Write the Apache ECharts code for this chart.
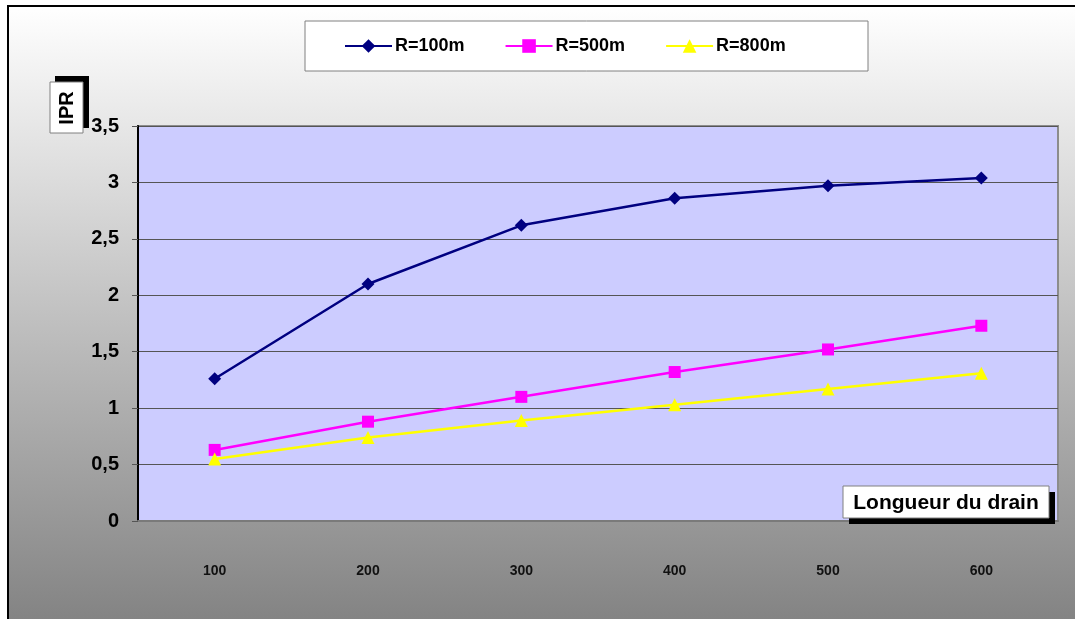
<!DOCTYPE html>
<html>
<head>
<meta charset="utf-8">
<script src="https://cdn.jsdelivr.net/npm/echarts@6/dist/echarts.min.js"></script>
<style>
    html, body { margin: 0; padding: 0; background: #ffffff; }
    #chart { width: 1075px; height: 619px; }
</style>
</head>
<body>
<div id="chart"></div>
<script>
const lengths = ['100', '200', '300', '400', '500', '600']
const seriesNames = ['R=100m', 'R=500m', 'R=800m']
const ipr100 = [1.26, 2.10, 2.62, 2.86, 2.97, 3.04]
const ipr500 = [0.63, 0.88, 1.10, 1.32, 1.52, 1.73]
const ipr800 = [0.55, 0.74, 0.89, 1.03, 1.17, 1.31]

const font = "'Liberation Sans', Arial, sans-serif"

let chartDom = document.getElementById('chart')
let myChart = echarts.init(chartDom)

function makeSeries(name, data, color, symbol, size) {
    return {
        name: name,
        type: 'line',
        data: data,
        symbol: symbol,
        symbolSize: size,
        lineStyle: { color: color, width: 2.5 },
        itemStyle: { color: color },
        z: 3
    }
}

let option = {
    animation: false,
    backgroundColor: '#ffffff',
    graphic: [
        {
            type: 'rect',
            z: -10,
            shape: { x: 8, y: 6, width: 1080, height: 630 },
            style: {
                fill: new echarts.graphic.LinearGradient(0, 0, 0, 1, [
                    { offset: 0, color: '#ffffff' },
                    { offset: 1, color: '#808080' }
                ]),
                stroke: '#000000',
                lineWidth: 2
            }
        },
        // legend frame
        {
            type: 'rect',
            z: 1,
            shape: { x: 305, y: 21, width: 563, height: 50 },
            style: { fill: '#ffffff', stroke: '#808080', lineWidth: 1 }
        },
        // IPR box
        {
            type: 'rect',
            z: 20,
            shape: { x: 55, y: 76, width: 34, height: 52 },
            style: { fill: '#000000' }
        },
        {
            type: 'rect',
            z: 21,
            shape: { x: 50, y: 82, width: 33, height: 51 },
            style: { fill: '#ffffff', stroke: '#808080', lineWidth: 1 }
        },
        {
            type: 'text',
            z: 22,
            x: 67,
            y: 108,
            rotation: Math.PI / 2,
            style: {
                text: 'IPR',
                font: 'bold 20px ' + font,
                fill: '#000000',
                align: 'center',
                verticalAlign: 'middle'
            }
        },
        // x axis title box
        {
            type: 'rect',
            z: 20,
            shape: { x: 849, y: 492, width: 206, height: 32 },
            style: { fill: '#000000' }
        },
        {
            type: 'rect',
            z: 21,
            shape: { x: 843, y: 486, width: 206, height: 32 },
            style: { fill: '#ffffff', stroke: '#808080', lineWidth: 1 }
        },
        {
            type: 'text',
            z: 22,
            x: 946,
            y: 503,
            style: {
                text: 'Longueur du drain',
                font: 'bold 21px ' + font,
                fill: '#000000',
                align: 'center',
                verticalAlign: 'middle'
            }
        }
    ],
    legend: {
        data: seriesNames,
        left: 344,
        top: 37,
        padding: 0,
        itemWidth: 47,
        itemHeight: 17,
        itemGap: 40,
        z: 5,
        textStyle: {
            fontFamily: font,
            fontWeight: 'bold',
            fontSize: 18,
            color: '#000000',
            padding: [0, 0, 0, -2]
        }
    },
    grid: {
        left: 138,
        right: 17,
        top: 126,
        bottom: 98,
        show: true,
        backgroundColor: '#ccccff',
        borderColor: '#8c8c8c',
        borderWidth: 2
    },
    xAxis: {
        type: 'category',
        data: lengths,
        boundaryGap: true,
        axisLine: { show: true, lineStyle: { color: '#7a7a7a', width: 2 } },
        axisTick: { show: false },
        axisLabel: {
            margin: 43,
            fontFamily: font,
            fontWeight: 'bold',
            fontSize: 14,
            color: '#111111'
        },
        splitLine: { show: false }
    },
    yAxis: {
        type: 'value',
        min: 0,
        max: 3.5,
        interval: 0.5,
        axisLine: { show: true, lineStyle: { color: '#000000', width: 2 } },
        axisTick: { show: true, inside: false, length: 6, lineStyle: { color: '#555555' } },
        axisLabel: {
            margin: 19,
            fontFamily: font,
            fontWeight: 'bold',
            fontSize: 20,
            color: '#000000',
            formatter: v => v.toString().replace('.', ',')
        },
        splitLine: { show: true, lineStyle: { color: '#555555', width: 1 } }
    },
    series: [
        makeSeries(seriesNames[0], ipr100, '#000080', 'diamond', 13),
        makeSeries(seriesNames[1], ipr500, '#ff00ff', 'rect', 12),
        makeSeries(seriesNames[2], ipr800, '#ffff00', 'triangle', 13)
    ]
}

option && myChart.setOption(option)
</script>
</body>
</html>
